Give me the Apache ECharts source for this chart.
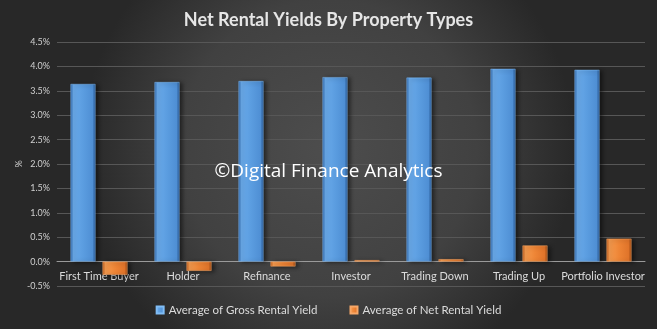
<!DOCTYPE html>
<html>
<head>
<meta charset="utf-8">
<script src="https://cdn.jsdelivr.net/npm/echarts@6/dist/echarts.min.js"></script>
<style>html,body{margin:0;padding:0;background:#333}#c{width:657px;height:329px}</style>
</head>
<body>
<div id="c"></div>
<script>
const categories = ['First Time Buyer','Holder','Refinance','Investor','Trading Down','Trading Up','Portfolio Investor'];
const grossYield = [3.64, 3.68, 3.70, 3.78, 3.77, 3.95, 3.93];
const netYield = [-0.27, -0.19, -0.10, 0.03, 0.05, 0.33, 0.47];
const seriesNames = ['Average of Gross Rental Yield','Average of Net Rental Yield'];
const yTicks = {min: -0.5, max: 4.5, interval: 0.5};

const FONT = 'Lato, "Open Sans", sans-serif';
const blueGrad = {type:'linear',x:0,y:0,x2:1,y2:0,colorStops:[
  {offset:0,color:'#2f66a8'},{offset:0.12,color:'#6aaaea'},{offset:0.5,color:'#5b9de0'},{offset:0.88,color:'#4f8fd4'},{offset:1,color:'#24548e'}]};
const orangeGrad = {type:'linear',x:0,y:0,x2:1,y2:0,colorStops:[
  {offset:0,color:'#b85a1c'},{offset:0.12,color:'#f59a4e'},{offset:0.5,color:'#ee8536'},{offset:0.88,color:'#e0742a'},{offset:1,color:'#9a4712'}]};

const gridTop = 42, gridBottom = 43, H = 329;
const plotH = H - gridTop - gridBottom;
const zeroOffset = plotH * (0 - yTicks.min) / (yTicks.max - yTicks.min);

const chart = echarts.init(document.getElementById('c'));
chart.setOption({
  backgroundColor: {type:'radial',x:0.5,y:0.45,r:0.75,colorStops:[
    {offset:0,color:'#4d4d4d'},{offset:0.6,color:'#414141'},{offset:1,color:'#282828'}]},
  animation:false,
  title:{text:'Net Rental Yields By Property Types',left:'center',top:6,
    textStyle:{color:'#e6e6e6',fontSize:18,fontWeight:'bold',fontFamily:FONT}},
  grid:{left:57,right:12,top:gridTop,bottom:gridBottom,containLabel:false},
  legend:{data:seriesNames,bottom:8,left:'center',itemWidth:7,itemHeight:7,itemGap:32,
    icon:'rect',textStyle:{color:'#dcdcdc',fontSize:11.5,fontFamily:FONT}},
  graphic:[{type:'text',left:'center',top:162,z:100,
    style:{text:'©Digital Finance Analytics',fill:'#ffffff',font:'19px "Open Sans", sans-serif'}}],
  xAxis:{type:'category',data:categories,position:'bottom',offset:-zeroOffset,
    axisLine:{onZero:false,lineStyle:{color:'#9a9a9a',width:1}},
    axisTick:{show:false},
    axisLabel:{color:'#dcdcdc',fontSize:11,fontFamily:FONT,margin:9,interval:0}},
  yAxis:{type:'value',min:yTicks.min,max:yTicks.max,interval:yTicks.interval,
    name:'%',nameLocation:'middle',nameGap:33,nameRotate:90,nameMoveOverlap:false,
    nameTextStyle:{color:'#d0d0d0',fontSize:9,fontFamily:FONT},
    axisLine:{show:false},axisTick:{show:false},
    axisLabel:{color:'#d0d0d0',fontSize:9,fontFamily:FONT,margin:7,formatter:v=>v.toFixed(1)+'%'},
    splitLine:{lineStyle:{color:'#575757',width:1}}},
  series:[
    {name:seriesNames[0],type:'bar',data:grossYield,barWidth:25,barGap:'28%',
      itemStyle:{color:blueGrad,borderColor:'#80bdf5',borderWidth:0.5,shadowColor:'rgba(0,0,0,0.5)',shadowBlur:4,shadowOffsetX:3,shadowOffsetY:1}},
    {name:seriesNames[1],type:'bar',data:netYield,barWidth:25,
      itemStyle:{color:orangeGrad,borderColor:'#f7a868',borderWidth:0.5,shadowColor:'rgba(0,0,0,0.5)',shadowBlur:4,shadowOffsetX:3,shadowOffsetY:1}}
  ]
});
</script>
</body>
</html>
